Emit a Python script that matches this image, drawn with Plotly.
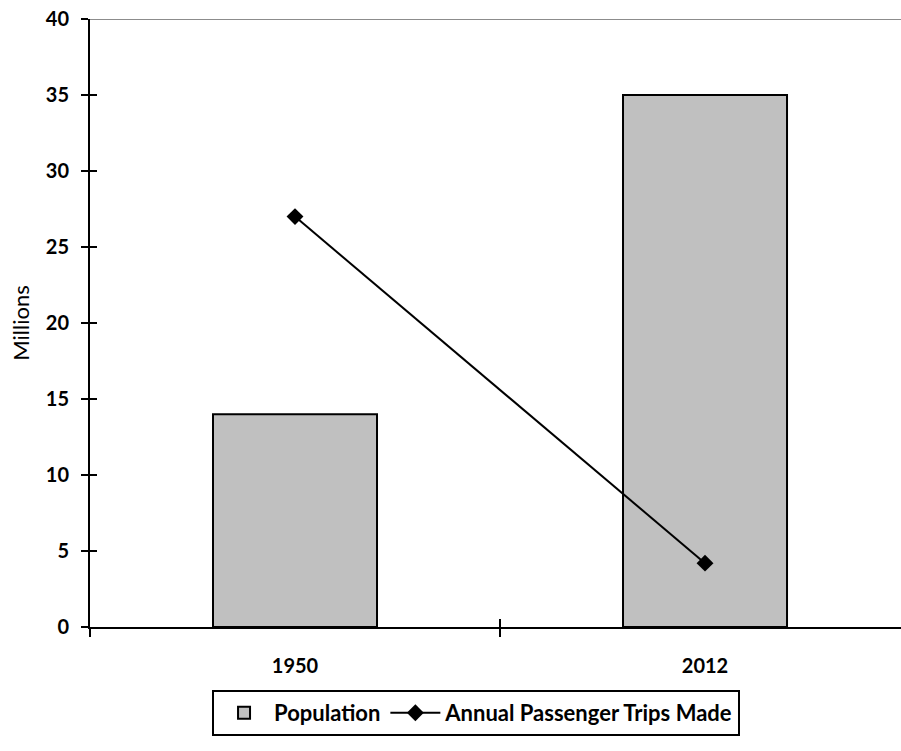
import plotly.graph_objects as go

categories = ["1950", "2012"]
population = [14, 35]
trips = [27, 4.2]
y_ticks = [0, 5, 10, 15, 20, 25, 30, 35, 40]

FONT = "Lato"

fig = go.Figure()
fig.add_trace(go.Bar(
    x=categories, y=population, name="Population",
    marker=dict(color="#C0C0C0", line=dict(color="black", width=2)),
    width=0.4,
))
fig.add_trace(go.Scatter(
    x=categories, y=trips, name="Annual Passenger Trips Made",
    mode="lines+markers",
    line=dict(color="black", width=2),
    marker=dict(symbol="diamond", size=13, color="black"),
))
# invisible trace on overlay axes for inward ticks (crossing tick marks)
fig.add_trace(go.Scatter(x=categories, y=[None, None], xaxis="x2", yaxis="y2",
                         showlegend=False, hoverinfo="skip"))

tick_font = dict(family=FONT, size=20, color="black", weight="bold")

fig.update_layout(
    width=901, height=751,
    margin=dict(l=90, r=0, t=19, b=124),
    paper_bgcolor="white", plot_bgcolor="white",
    font=dict(family=FONT, size=20, color="black"),
    xaxis=dict(
        type="category", range=[-0.5, 1.478],
        tickson="boundaries", ticks="outside", ticklen=8, tickwidth=2, tickcolor="black",
        showline=True, linecolor="black", linewidth=2,
        showgrid=False, zeroline=False,
        tickfont=tick_font,
        ticklabelstandoff=20,
        automargin=False,
    ),
    xaxis2=dict(
        type="category", range=[-0.5, 1.478], overlaying="x", anchor="y",
        tickson="boundaries", ticks="inside", ticklen=8, tickwidth=2, tickcolor="black",
        showticklabels=False, showgrid=False, zeroline=False, showline=False,
        side="bottom", automargin=False,
    ),
    yaxis=dict(
        range=[0, 40], tickvals=y_ticks,
        ticks="outside", ticklen=7, tickwidth=2, tickcolor="black",
        showline=True, linecolor="black", linewidth=2,
        showgrid=False, zeroline=False,
        tickfont=tick_font,
        ticklabelstandoff=8,
        ticklabeloverflow="allow",
        automargin=False,
        title=dict(text="Millions", font=dict(family=FONT, size=22, color="black"), standoff=10),
    ),
    yaxis2=dict(
        overlaying="y", range=[0, 40], tickvals=y_ticks, anchor="x",
        ticks="inside", ticklen=7, tickwidth=2, tickcolor="black",
        showticklabels=False, showgrid=False, zeroline=False, showline=False,
        side="left", automargin=False,
    ),
    legend=dict(
        orientation="h", x=0.476, xanchor="center", y=-0.1036, yanchor="top",
        bordercolor="black", borderwidth=2,
        font=dict(family=FONT, size=22, color="black", weight="bold"),
        traceorder="normal",
        tracegroupgap=0, itemwidth=50,
    ),
    shapes=[dict(type="line", xref="paper", yref="y", x0=0, x1=1, y0=40, y1=40,
                 line=dict(color="#8C8C8C", width=2))],
)

fig.write_html("out.html", config={"displayModeBar": False},
               post_script="document.body.style.margin='0';")
